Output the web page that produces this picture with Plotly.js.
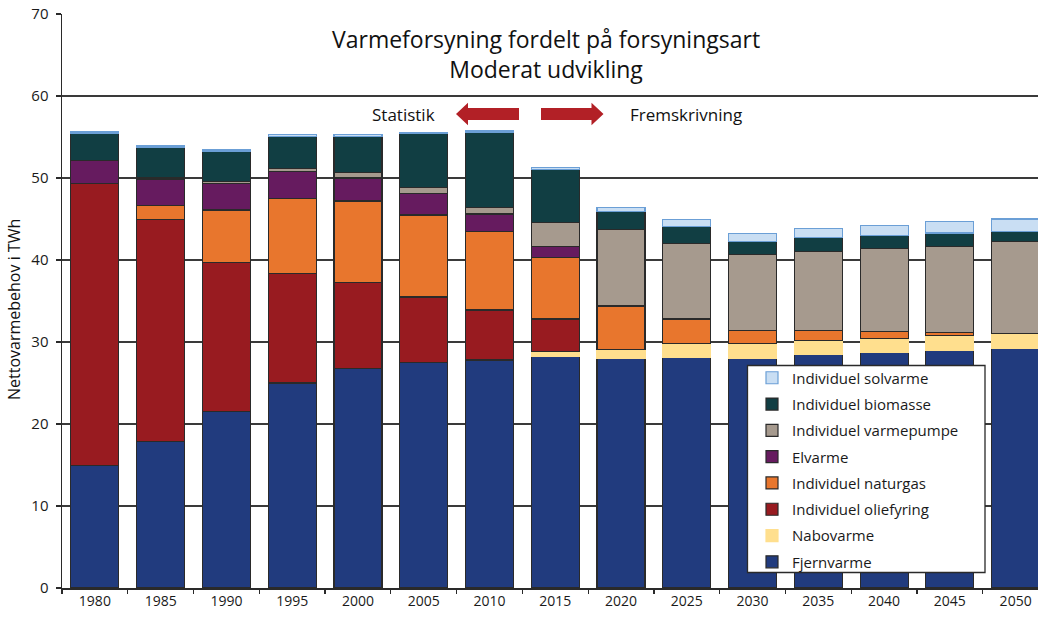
<!DOCTYPE html>
<html>
<head>
<meta charset="utf-8">
<script src="https://cdn.plot.ly/plotly-3.0.1.min.js"></script>
<style>html,body{margin:0;padding:0;background:#fff;}#chart{width:1038px;height:621px;}</style>
</head>
<body>
<div id="chart"></div>
<script>
// ---- Data ----
const years = ['1980','1985','1990','1995','2000','2005','2010','2015','2020','2025','2030','2035','2040','2045','2050'];

const fjernvarme   = [14.9, 17.9, 21.5, 25.0, 26.8, 27.5, 27.8, 28.3, 28.0, 28.1, 28.0, 28.45, 28.7, 29.0, 29.2];
const nabovarme    = [null, null, null, null, null, null, null, 0.5, 1.1, 1.7, 1.8, 1.75, 1.7, 1.8, 1.8];
const oliefyring   = [34.4, 27.0, 18.2, 13.35, 10.5, 8.0, 6.1, 4.0, null, null, null, null, null, null, null];
const naturgas     = [null, 1.7, 6.4, 9.15, 9.9, 10.0, 9.6, 7.5, 5.3, 3.0, 1.6, 1.2, 0.9, 0.4, null];
const elvarme      = [2.8, 3.2, 3.2, 3.3, 2.8, 2.6, 2.1, 1.3, null, null, null, null, null, null, null];
const varmepumpe   = [null, 0.2, 0.3, 0.4, 0.7, 0.7, 0.8, 3.0, 9.3, 9.25, 9.3, 9.6, 10.1, 10.45, 11.25];
const biomasse     = [3.3, 3.7, 3.7, 3.9, 4.4, 6.6, 9.2, 6.4, 2.2, 2.05, 1.6, 1.7, 1.6, 1.65, 1.25];
const solvarme     = [0.2, 0.2, 0.2, 0.2, 0.2, 0.15, 0.15, 0.3, 0.5, 0.8, 0.9, 1.1, 1.25, 1.35, 1.5];

const seriesNames = ['Fjernvarme','Nabovarme','Individuel oliefyring','Individuel naturgas','Elvarme','Individuel varmepumpe','Individuel biomasse','Individuel solvarme'];
const seriesData  = [fjernvarme, nabovarme, oliefyring, naturgas, elvarme, varmepumpe, biomasse, solvarme];
const seriesColors = ['#213b7e','#ffdf8e','#981b20','#e8762d','#661b5f','#a69a8e','#113e43','#c9def3'];
const lineColors   = ['#2a2a2a','#ffdf8e','#2a2a2a','#2a2a2a','#2a2a2a','#2a2a2a','#2a2a2a','#6b9fd6'];

const yTicks = [0,10,20,30,40,50,60,70];

const titleText = 'Varmeforsyning fordelt på forsyningsart<br>Moderat udvikling';
const yTitle = 'Nettovarmebehov i TWh';
const leftLabel = 'Statistik';
const rightLabel = 'Fremskrivning';

// ---- Layout geometry ----
const W = 1038, H = 621;
const M = {l: 62, r: 0, t: 14, b: 33};
const PW = W - M.l - M.r, PH = H - M.t - M.b;
const px = X => (X - M.l) / PW;
const py = Y => (H - M.b - Y) / PH;

const FONT = '"Open Sans", "Noto Sans", sans-serif';

const traces = seriesNames.map((n, i) => ({
  type: 'bar',
  name: n,
  x: years,
  y: seriesData[i],
  legendgroup: 'g' + i,
  legendrank: 100 * (seriesNames.length - i),
  marker: {color: seriesColors[i], line: {color: lineColors[i], width: 1.2}},
  hoverinfo: 'x+y+name'
}));

function arrowPath(x0, x1, headBase, yc, bodyH, headH) {
  const p = [
    [x0, yc - bodyH], [headBase, yc - bodyH], [headBase, yc - headH],
    [x1, yc], [headBase, yc + headH], [headBase, yc + bodyH], [x0, yc + bodyH]
  ];
  return 'M' + p.map(q => px(q[0]).toFixed(5) + ',' + py(q[1]).toFixed(5)).join(' L') + ' Z';
}

const layout = {
  width: W, height: H,
  margin: M,
  paper_bgcolor: '#ffffff',
  plot_bgcolor: '#ffffff',
  barmode: 'stack',
  bargap: 0.27,
  showlegend: true,
  font: {family: FONT, color: '#1a1a1a', size: 14},
  xaxis: {
    type: 'category',
    range: [-0.5, 14.34],
    showgrid: false,
    showline: true, linecolor: '#2a2a2a', linewidth: 1.5,
    ticks: 'outside', tickson: 'boundaries', ticklen: 4, tickcolor: '#2a2a2a', tickwidth: 1.3,
    tickfont: {family: FONT, size: 14, color: '#1a1a1a'},
    fixedrange: true
  },
  yaxis: {
    range: [0, 70],
    tickvals: yTicks,
    showgrid: true, gridcolor: '#3a3a3a', gridwidth: 1.3,
    zeroline: false,
    showline: true, linecolor: '#2a2a2a', linewidth: 1.5,
    ticks: 'outside', ticklen: 5, tickcolor: '#2a2a2a', tickwidth: 1.3,
    tickfont: {family: FONT, size: 15, color: '#1a1a1a'},
    ticklabelstandoff: 4,
    title: {text: ''},
    fixedrange: true
  },
  legend: {
    traceorder: 'grouped',
    x: px(752), xanchor: 'left',
    y: py(361.5), yanchor: 'top',
    bgcolor: 'rgba(0,0,0,0)',
    borderwidth: 0,
    font: {family: FONT, size: 15, color: '#1a1a1a'},
    tracegroupgap: 3.8
  },
  shapes: [
    {type: 'rect', xref: 'paper', yref: 'paper', layer: 'above',
     x0: px(747.5), x1: px(985), y0: py(572.5), y1: py(365.5),
     fillcolor: '#ffffff', line: {color: '#2a2a2a', width: 1.3}},
    {type: 'path', xref: 'paper', yref: 'paper', layer: 'above',
     path: arrowPath(519, 456, 468, 114, 6, 11.2), fillcolor: '#b22026', line: {width: 0}},
    {type: 'path', xref: 'paper', yref: 'paper', layer: 'above',
     path: arrowPath(541, 603.5, 591.5, 114, 6, 11.2), fillcolor: '#b22026', line: {width: 0}}
  ],
  annotations: [
    {xref: 'paper', yref: 'paper', x: px(546), y: py(54), xanchor: 'center', yanchor: 'middle',
     text: titleText, showarrow: false, align: 'center',
     font: {family: FONT, size: 23, color: '#111111'}},
    {xref: 'paper', yref: 'paper', x: px(403.5), y: py(114), xanchor: 'center', yanchor: 'middle',
     text: leftLabel, showarrow: false, font: {family: FONT, size: 17, color: '#111111'}},
    {xref: 'paper', yref: 'paper', x: px(685.5), y: py(114), xanchor: 'center', yanchor: 'middle',
     text: rightLabel, showarrow: false, font: {family: FONT, size: 17, color: '#111111'}},
    {xref: 'paper', yref: 'paper', x: px(14), y: py(310), xanchor: 'center', yanchor: 'middle',
     text: yTitle, showarrow: false, textangle: -90, font: {family: FONT, size: 16, color: '#111111'}}
  ]
};

Plotly.newPlot('chart', traces, layout, {displayModeBar: false, staticPlot: true});
</script>
</body>
</html>
